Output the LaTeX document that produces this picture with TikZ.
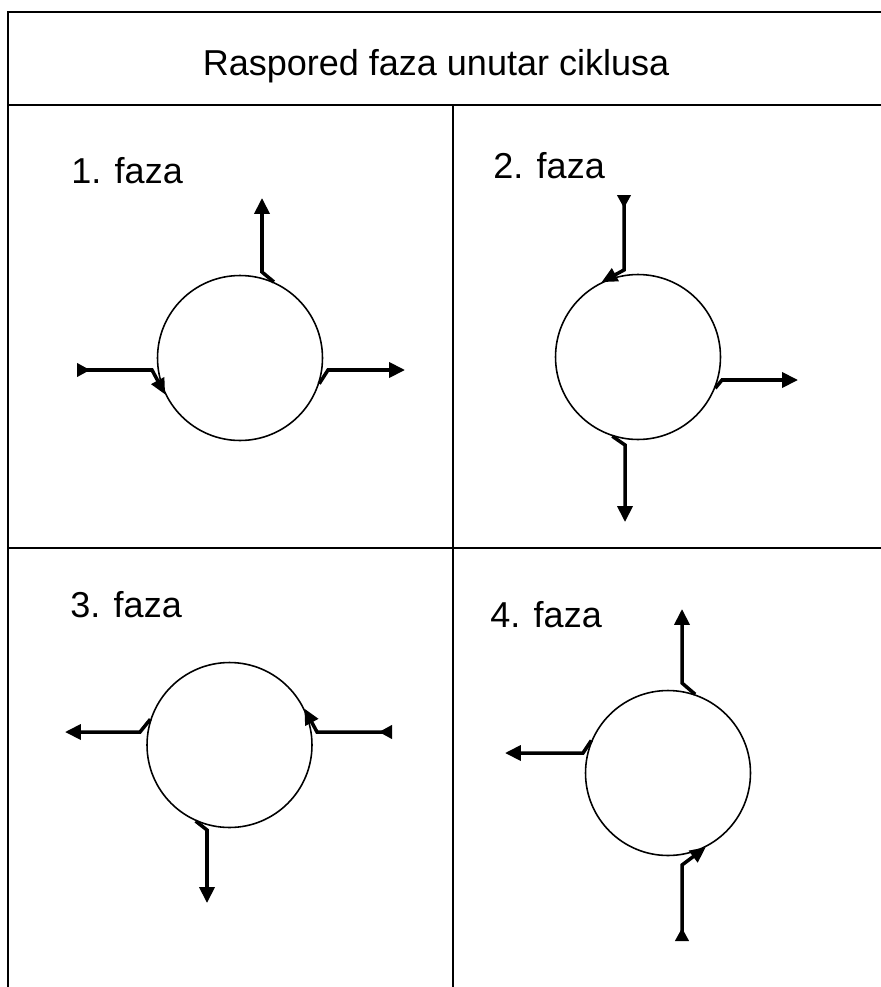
\documentclass[tikz,border=0pt]{standalone}
\usepackage{fontspec}
\setmainfont{Liberation Sans}
\usetikzlibrary{arrows.meta}

\tikzset{
  faza/.style={draw,circle,line width=0.9pt,minimum size=3.3cm,inner sep=0pt},
  izlaz/.style={line width=2pt,{Triangle[length=9pt,width=8.5pt]}-},
  ulaz/.style={line width=2pt,{Triangle[reversed,length=7.5pt,width=7.5pt]}-{Triangle[length=9pt,width=8pt]}},
  natpis/.style={anchor=base west,inner sep=0pt,font=\fontsize{20.5}{24}\selectfont}
}

\begin{document}
\begin{tikzpicture}[x=0.02cm,y=-0.02cm]
    \useasboundingbox (0,0) rectangle (881,987);
    % okvir tablice
    \begin{scope}[line width=1pt]
    \draw (881,12) -- (8,12) -- (8,987);
    \draw (8,105) -- (881,105);
    \draw (8,548) -- (881,548);
    \draw (453,105) -- (453,987);
    \end{scope}
    \node [natpis,anchor=base] (naslov) at (436,75) {Raspored faza unutar ciklusa};
    % 1. faza
    \node [natpis] (n1) at (71,183) {1. faza};
    \node [faza] (k1) at (240,358) {};
    \coordinate (k1g) at (262,198);
    \coordinate (k1l) at (77,370);
    \coordinate (k1d) at (405,370);
    \draw [izlaz] (k1g) -- ++(0,74) -- (k1.66);
    \draw [ulaz] (k1l) -- ++(75,0) -- (k1.206);
    \draw [izlaz] (k1d) -- ++(-77,0) -- (k1.342);
    % 2. faza
    \node [natpis] (n2) at (493,178) {2. faza};
    \node [faza] (k2) at (638,357) {};
    \coordinate (k2g) at (624,195);
    \coordinate (k2d) at (798,380);
    \coordinate (k2b) at (625,522);
    \draw [ulaz] (k2g) -- ++(0,75) -- (k2.116);
    \draw [izlaz] (k2d) -- ++(-76,0) -- (k2.338);
    \draw [izlaz] (k2b) -- ++(0,-77) -- (k2.252);
    % 3. faza
    \node [natpis] (n3) at (70,617) {3. faza};
    \node [faza] (k3) at (229.5,745) {};
    \coordinate (k3l) at (65,732);
    \coordinate (k3d) at (392,732);
    \coordinate (k3b) at (207,903);
    \draw [izlaz] (k3l) -- ++(75,0) -- (k3.162);
    \draw [ulaz] (k3d) -- ++(-75,0) -- (k3.26);
    \draw [izlaz] (k3b) -- ++(0,-73) -- (k3.246);
    % 4. faza
    \node [natpis] (n4) at (490,627) {4. faza};
    \node [faza] (k4) at (668,773) {};
    \coordinate (k4g) at (682,609);
    \coordinate (k4l) at (505,753);
    \coordinate (k4b) at (682,941);
    \draw [izlaz] (k4g) -- ++(0,74) -- (k4.71);
    \draw [izlaz] (k4l) -- ++(78,0) -- (k4.157);
    \draw [ulaz] (k4b) -- ++(0,-76) -- (k4.297);
\end{tikzpicture}
\end{document}
